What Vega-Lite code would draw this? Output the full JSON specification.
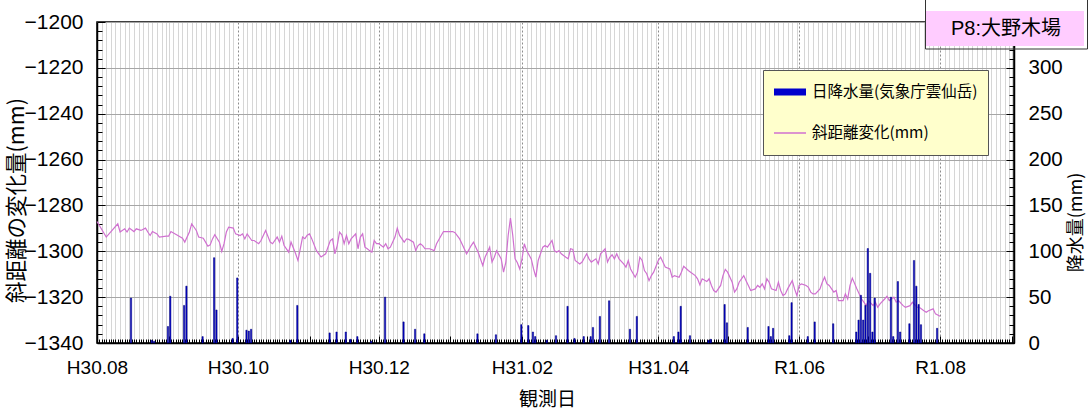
{
  "$schema": "https://vega.github.io/schema/vega-lite/v6.json",
  "width": 917,
  "height": 321,
  "autosize": {"type": "none"},
  "padding": {"left": 97, "top": 22, "right": 77, "bottom": 67},
  "background": "#ffffff",
  "config": {
    "view": {"stroke": "#000000", "strokeWidth": 1.5, "fill": "#ffffff"},
    "font": "Liberation Sans"
  },
  "datasets": {
    "disp": [
      {"date": "2018-08-01", "v": -1287.0}, {"date": "2018-08-05", "v": -1293.8}, {"date": "2018-08-10", "v": -1288.0}, {"date": "2018-08-11", "v": -1291.6},
      {"date": "2018-08-13", "v": -1290.2}, {"date": "2018-08-14", "v": -1291.6}, {"date": "2018-08-15", "v": -1289.9}, {"date": "2018-08-17", "v": -1291.4},
      {"date": "2018-08-18", "v": -1290.2}, {"date": "2018-08-20", "v": -1290.9}, {"date": "2018-08-22", "v": -1289.9}, {"date": "2018-08-23", "v": -1291.6},
      {"date": "2018-08-24", "v": -1293.1}, {"date": "2018-08-25", "v": -1291.4}, {"date": "2018-08-27", "v": -1292.4}, {"date": "2018-08-28", "v": -1293.8},
      {"date": "2018-08-31", "v": -1293.4}, {"date": "2018-09-01", "v": -1293.4}, {"date": "2018-09-02", "v": -1291.4}, {"date": "2018-09-05", "v": -1293.1},
      {"date": "2018-09-07", "v": -1294.3}, {"date": "2018-09-08", "v": -1296.0}, {"date": "2018-09-10", "v": -1291.6}, {"date": "2018-09-11", "v": -1288.0},
      {"date": "2018-09-13", "v": -1290.9}, {"date": "2018-09-14", "v": -1293.8}, {"date": "2018-09-16", "v": -1294.3}, {"date": "2018-09-17", "v": -1296.0},
      {"date": "2018-09-18", "v": -1297.8}, {"date": "2018-09-19", "v": -1297.2}, {"date": "2018-09-20", "v": -1294.6}, {"date": "2018-09-21", "v": -1292.8},
      {"date": "2018-09-23", "v": -1296.0}, {"date": "2018-09-24", "v": -1300.1}, {"date": "2018-09-25", "v": -1296.7}, {"date": "2018-09-26", "v": -1291.6},
      {"date": "2018-09-27", "v": -1289.5}, {"date": "2018-09-29", "v": -1289.9}, {"date": "2018-09-30", "v": -1292.4}, {"date": "2018-10-02", "v": -1293.1},
      {"date": "2018-10-03", "v": -1292.4}, {"date": "2018-10-04", "v": -1294.6}, {"date": "2018-10-05", "v": -1292.4}, {"date": "2018-10-07", "v": -1295.3},
      {"date": "2018-10-08", "v": -1295.3}, {"date": "2018-10-10", "v": -1296.7}, {"date": "2018-10-11", "v": -1295.3}, {"date": "2018-10-13", "v": -1290.9},
      {"date": "2018-10-15", "v": -1296.0}, {"date": "2018-10-16", "v": -1296.7}, {"date": "2018-10-18", "v": -1293.8}, {"date": "2018-10-19", "v": -1296.0},
      {"date": "2018-10-20", "v": -1293.4}, {"date": "2018-10-21", "v": -1297.5}, {"date": "2018-10-23", "v": -1300.4}, {"date": "2018-10-24", "v": -1296.0},
      {"date": "2018-10-26", "v": -1301.1}, {"date": "2018-10-27", "v": -1304.0}, {"date": "2018-10-28", "v": -1298.9}, {"date": "2018-10-29", "v": -1293.8},
      {"date": "2018-10-30", "v": -1294.5}, {"date": "2018-10-31", "v": -1293.0}, {"date": "2018-11-01", "v": -1292.4}, {"date": "2018-11-02", "v": -1294.6},
      {"date": "2018-11-04", "v": -1299.7}, {"date": "2018-11-06", "v": -1302.5}, {"date": "2018-11-08", "v": -1301.1}, {"date": "2018-11-10", "v": -1295.3},
      {"date": "2018-11-11", "v": -1294.6}, {"date": "2018-11-12", "v": -1301.1}, {"date": "2018-11-13", "v": -1297.5}, {"date": "2018-11-14", "v": -1291.6},
      {"date": "2018-11-15", "v": -1292.8}, {"date": "2018-11-16", "v": -1296.7}, {"date": "2018-11-17", "v": -1293.1}, {"date": "2018-11-18", "v": -1296.7},
      {"date": "2018-11-19", "v": -1294.6}, {"date": "2018-11-21", "v": -1292.4}, {"date": "2018-11-22", "v": -1298.9}, {"date": "2018-11-23", "v": -1293.8},
      {"date": "2018-11-24", "v": -1292.4}, {"date": "2018-11-25", "v": -1298.2}, {"date": "2018-11-26", "v": -1298.9}, {"date": "2018-11-27", "v": -1299.7},
      {"date": "2018-11-28", "v": -1300.4}, {"date": "2018-11-29", "v": -1295.3}, {"date": "2018-11-30", "v": -1296.7}, {"date": "2018-12-01", "v": -1296.7},
      {"date": "2018-12-03", "v": -1298.2}, {"date": "2018-12-04", "v": -1296.7}, {"date": "2018-12-05", "v": -1298.9}, {"date": "2018-12-06", "v": -1298.2},
      {"date": "2018-12-08", "v": -1293.8}, {"date": "2018-12-09", "v": -1289.9}, {"date": "2018-12-10", "v": -1293.1}, {"date": "2018-12-12", "v": -1296.0},
      {"date": "2018-12-13", "v": -1294.6}, {"date": "2018-12-14", "v": -1294.8}, {"date": "2018-12-16", "v": -1296.0}, {"date": "2018-12-17", "v": -1299.7},
      {"date": "2018-12-18", "v": -1297.5}, {"date": "2018-12-19", "v": -1296.7}, {"date": "2018-12-20", "v": -1297.5}, {"date": "2018-12-21", "v": -1298.9},
      {"date": "2018-12-23", "v": -1298.9}, {"date": "2018-12-25", "v": -1299.7}, {"date": "2018-12-26", "v": -1296.7}, {"date": "2018-12-28", "v": -1293.1},
      {"date": "2018-12-29", "v": -1291.4}, {"date": "2019-01-02", "v": -1291.4}, {"date": "2019-01-03", "v": -1291.9}, {"date": "2019-01-05", "v": -1294.6},
      {"date": "2019-01-06", "v": -1296.7}, {"date": "2019-01-07", "v": -1298.9}, {"date": "2019-01-08", "v": -1301.1}, {"date": "2019-01-10", "v": -1297.5},
      {"date": "2019-01-11", "v": -1296.0}, {"date": "2019-01-12", "v": -1298.2}, {"date": "2019-01-13", "v": -1300.4}, {"date": "2019-01-14", "v": -1303.3},
      {"date": "2019-01-15", "v": -1306.2}, {"date": "2019-01-16", "v": -1302.6}, {"date": "2019-01-18", "v": -1298.2}, {"date": "2019-01-19", "v": -1304.7},
      {"date": "2019-01-20", "v": -1302.6}, {"date": "2019-01-21", "v": -1299.7}, {"date": "2019-01-23", "v": -1303.3}, {"date": "2019-01-24", "v": -1309.1},
      {"date": "2019-01-25", "v": -1304.7}, {"date": "2019-01-26", "v": -1293.1}, {"date": "2019-01-27", "v": -1285.5}, {"date": "2019-01-28", "v": -1293.1},
      {"date": "2019-01-29", "v": -1303.3}, {"date": "2019-01-30", "v": -1305.0}, {"date": "2019-01-31", "v": -1307.7}, {"date": "2019-02-01", "v": -1303.3},
      {"date": "2019-02-02", "v": -1296.7}, {"date": "2019-02-03", "v": -1299.7}, {"date": "2019-02-05", "v": -1303.3}, {"date": "2019-02-06", "v": -1307.7},
      {"date": "2019-02-07", "v": -1311.3}, {"date": "2019-02-08", "v": -1304.0}, {"date": "2019-02-10", "v": -1298.2}, {"date": "2019-02-11", "v": -1297.5},
      {"date": "2019-02-12", "v": -1298.2}, {"date": "2019-02-14", "v": -1295.3}, {"date": "2019-02-15", "v": -1299.7}, {"date": "2019-02-16", "v": -1300.4},
      {"date": "2019-02-17", "v": -1299.7}, {"date": "2019-02-18", "v": -1301.1}, {"date": "2019-02-20", "v": -1302.6}, {"date": "2019-02-21", "v": -1303.3},
      {"date": "2019-02-22", "v": -1298.9}, {"date": "2019-02-23", "v": -1299.2}, {"date": "2019-02-24", "v": -1304.0}, {"date": "2019-02-26", "v": -1305.5},
      {"date": "2019-02-27", "v": -1304.7}, {"date": "2019-03-01", "v": -1301.1}, {"date": "2019-03-02", "v": -1303.3}, {"date": "2019-03-03", "v": -1304.7},
      {"date": "2019-03-05", "v": -1303.3}, {"date": "2019-03-06", "v": -1305.5}, {"date": "2019-03-07", "v": -1301.1}, {"date": "2019-03-09", "v": -1298.9},
      {"date": "2019-03-10", "v": -1304.7}, {"date": "2019-03-11", "v": -1302.6}, {"date": "2019-03-12", "v": -1301.5}, {"date": "2019-03-13", "v": -1303.3},
      {"date": "2019-03-14", "v": -1301.1}, {"date": "2019-03-15", "v": -1303.3}, {"date": "2019-03-17", "v": -1305.5}, {"date": "2019-03-18", "v": -1306.9},
      {"date": "2019-03-19", "v": -1304.0}, {"date": "2019-03-20", "v": -1307.7}, {"date": "2019-03-22", "v": -1311.3}, {"date": "2019-03-23", "v": -1309.1},
      {"date": "2019-03-24", "v": -1302.6}, {"date": "2019-03-25", "v": -1304.0}, {"date": "2019-03-26", "v": -1308.4}, {"date": "2019-03-27", "v": -1309.8},
      {"date": "2019-03-28", "v": -1312.8}, {"date": "2019-03-29", "v": -1310.6}, {"date": "2019-03-30", "v": -1309.1}, {"date": "2019-04-01", "v": -1304.0},
      {"date": "2019-04-02", "v": -1302.6}, {"date": "2019-04-03", "v": -1304.7}, {"date": "2019-04-04", "v": -1306.9}, {"date": "2019-04-06", "v": -1307.7},
      {"date": "2019-04-07", "v": -1311.3}, {"date": "2019-04-08", "v": -1310.6}, {"date": "2019-04-10", "v": -1311.3}, {"date": "2019-04-11", "v": -1309.1},
      {"date": "2019-04-12", "v": -1306.5}, {"date": "2019-04-14", "v": -1308.4}, {"date": "2019-04-15", "v": -1309.1}, {"date": "2019-04-17", "v": -1310.6},
      {"date": "2019-04-18", "v": -1312.0}, {"date": "2019-04-19", "v": -1314.6}, {"date": "2019-04-20", "v": -1312.0}, {"date": "2019-04-22", "v": -1313.2},
      {"date": "2019-04-23", "v": -1312.0}, {"date": "2019-04-24", "v": -1314.9}, {"date": "2019-04-25", "v": -1317.1}, {"date": "2019-04-26", "v": -1317.8},
      {"date": "2019-04-28", "v": -1314.9}, {"date": "2019-04-29", "v": -1310.6}, {"date": "2019-04-30", "v": -1307.9}, {"date": "2019-05-01", "v": -1309.1},
      {"date": "2019-05-03", "v": -1313.5}, {"date": "2019-05-04", "v": -1317.8}, {"date": "2019-05-05", "v": -1316.4}, {"date": "2019-05-06", "v": -1313.5},
      {"date": "2019-05-08", "v": -1310.6}, {"date": "2019-05-09", "v": -1312.8}, {"date": "2019-05-10", "v": -1314.9}, {"date": "2019-05-11", "v": -1317.1},
      {"date": "2019-05-13", "v": -1316.4}, {"date": "2019-05-14", "v": -1314.9}, {"date": "2019-05-15", "v": -1315.7}, {"date": "2019-05-16", "v": -1314.2},
      {"date": "2019-05-17", "v": -1316.4}, {"date": "2019-05-18", "v": -1312.0}, {"date": "2019-05-19", "v": -1313.5}, {"date": "2019-05-20", "v": -1316.4},
      {"date": "2019-05-22", "v": -1317.1}, {"date": "2019-05-23", "v": -1313.5}, {"date": "2019-05-24", "v": -1317.1}, {"date": "2019-05-25", "v": -1319.3},
      {"date": "2019-05-26", "v": -1318.6}, {"date": "2019-05-27", "v": -1316.4}, {"date": "2019-05-29", "v": -1312.8}, {"date": "2019-05-30", "v": -1316.4},
      {"date": "2019-05-31", "v": -1319.3}, {"date": "2019-06-01", "v": -1314.9}, {"date": "2019-06-02", "v": -1314.2}, {"date": "2019-06-04", "v": -1314.9},
      {"date": "2019-06-05", "v": -1315.7}, {"date": "2019-06-06", "v": -1317.8}, {"date": "2019-06-07", "v": -1318.6}, {"date": "2019-06-08", "v": -1318.6},
      {"date": "2019-06-10", "v": -1316.4}, {"date": "2019-06-11", "v": -1313.5}, {"date": "2019-06-12", "v": -1311.3}, {"date": "2019-06-13", "v": -1314.2},
      {"date": "2019-06-14", "v": -1314.9}, {"date": "2019-06-16", "v": -1317.8}, {"date": "2019-06-17", "v": -1317.1}, {"date": "2019-06-18", "v": -1321.5},
      {"date": "2019-06-20", "v": -1321.5}, {"date": "2019-06-21", "v": -1318.6}, {"date": "2019-06-22", "v": -1320.8}, {"date": "2019-06-23", "v": -1314.9},
      {"date": "2019-06-24", "v": -1311.7}, {"date": "2019-06-26", "v": -1316.4}, {"date": "2019-06-27", "v": -1318.6}, {"date": "2019-06-28", "v": -1320.8},
      {"date": "2019-06-29", "v": -1322.2}, {"date": "2019-06-30", "v": -1323.7}, {"date": "2019-07-01", "v": -1321.5}, {"date": "2019-07-03", "v": -1323.7},
      {"date": "2019-07-04", "v": -1322.2}, {"date": "2019-07-05", "v": -1324.4}, {"date": "2019-07-06", "v": -1322.9}, {"date": "2019-07-08", "v": -1320.8},
      {"date": "2019-07-09", "v": -1319.6}, {"date": "2019-07-10", "v": -1321.5}, {"date": "2019-07-12", "v": -1320.0}, {"date": "2019-07-13", "v": -1322.2},
      {"date": "2019-07-14", "v": -1321.5}, {"date": "2019-07-16", "v": -1323.7}, {"date": "2019-07-17", "v": -1324.4}, {"date": "2019-07-19", "v": -1323.7},
      {"date": "2019-07-20", "v": -1322.2}, {"date": "2019-07-22", "v": -1324.4}, {"date": "2019-07-23", "v": -1324.4}, {"date": "2019-07-25", "v": -1325.9},
      {"date": "2019-07-26", "v": -1326.6}, {"date": "2019-07-27", "v": -1325.9}, {"date": "2019-07-29", "v": -1325.1}, {"date": "2019-07-30", "v": -1327.3},
      {"date": "2019-08-01", "v": -1328.3}
    ],
    "rain": [
      {"date": "2018-08-15", "rain": 49}, {"date": "2018-08-24", "rain": 3}, {"date": "2018-08-25", "rain": 2}, {"date": "2018-08-31", "rain": 18},
      {"date": "2018-09-01", "rain": 51}, {"date": "2018-09-07", "rain": 41}, {"date": "2018-09-08", "rain": 62}, {"date": "2018-09-15", "rain": 7},
      {"date": "2018-09-20", "rain": 93}, {"date": "2018-09-21", "rain": 36}, {"date": "2018-09-28", "rain": 5}, {"date": "2018-09-30", "rain": 71},
      {"date": "2018-10-04", "rain": 14}, {"date": "2018-10-05", "rain": 13}, {"date": "2018-10-06", "rain": 15}, {"date": "2018-10-23", "rain": 3},
      {"date": "2018-10-26", "rain": 41}, {"date": "2018-11-09", "rain": 11}, {"date": "2018-11-12", "rain": 12}, {"date": "2018-11-16", "rain": 12},
      {"date": "2018-11-18", "rain": 4}, {"date": "2018-11-21", "rain": 7}, {"date": "2018-11-27", "rain": 2}, {"date": "2018-12-03", "rain": 50},
      {"date": "2018-12-11", "rain": 23}, {"date": "2018-12-16", "rain": 15}, {"date": "2018-12-20", "rain": 10}, {"date": "2019-01-12", "rain": 10},
      {"date": "2019-01-20", "rain": 9}, {"date": "2019-01-31", "rain": 20}, {"date": "2019-02-03", "rain": 19}, {"date": "2019-02-05", "rain": 12},
      {"date": "2019-02-06", "rain": 7}, {"date": "2019-02-11", "rain": 3}, {"date": "2019-02-15", "rain": 8}, {"date": "2019-02-20", "rain": 40},
      {"date": "2019-02-23", "rain": 5}, {"date": "2019-02-27", "rain": 7}, {"date": "2019-03-02", "rain": 7}, {"date": "2019-03-03", "rain": 17},
      {"date": "2019-03-06", "rain": 29}, {"date": "2019-03-10", "rain": 46}, {"date": "2019-03-19", "rain": 15}, {"date": "2019-03-22", "rain": 29},
      {"date": "2019-04-07", "rain": 7}, {"date": "2019-04-09", "rain": 12}, {"date": "2019-04-10", "rain": 40}, {"date": "2019-04-14", "rain": 8},
      {"date": "2019-04-22", "rain": 3}, {"date": "2019-04-23", "rain": 4}, {"date": "2019-04-29", "rain": 42}, {"date": "2019-04-30", "rain": 22},
      {"date": "2019-05-09", "rain": 17}, {"date": "2019-05-18", "rain": 18}, {"date": "2019-05-19", "rain": 7}, {"date": "2019-05-20", "rain": 16},
      {"date": "2019-05-27", "rain": 8}, {"date": "2019-05-28", "rain": 44}, {"date": "2019-06-04", "rain": 7}, {"date": "2019-06-07", "rain": 23},
      {"date": "2019-06-15", "rain": 21}, {"date": "2019-06-25", "rain": 12}, {"date": "2019-06-26", "rain": 25}, {"date": "2019-06-27", "rain": 52},
      {"date": "2019-06-28", "rain": 25}, {"date": "2019-06-29", "rain": 41}, {"date": "2019-06-30", "rain": 103}, {"date": "2019-07-01", "rain": 76},
      {"date": "2019-07-02", "rain": 12}, {"date": "2019-07-03", "rain": 49}, {"date": "2019-07-10", "rain": 50}, {"date": "2019-07-11", "rain": 7},
      {"date": "2019-07-13", "rain": 67}, {"date": "2019-07-14", "rain": 12}, {"date": "2019-07-18", "rain": 21}, {"date": "2019-07-20", "rain": 90},
      {"date": "2019-07-21", "rain": 62}, {"date": "2019-07-22", "rain": 42}, {"date": "2019-07-23", "rain": 20}, {"date": "2019-07-30", "rain": 16}
    ]
  },
  "encoding": {
    "x": {
      "field": "date",
      "type": "temporal",
      "timeUnit": "utcyearmonthdate",
      "title": "観測日",
      "scale": {
        "type": "utc",
        "nice": false,
        "domain": [{"year": 2018, "month": 8, "date": 1, "utc": true}, {"year": 2019, "month": 9, "date": 2, "utc": true}]
      },
      "axis": {
        "tickCount": {"interval": "day", "step": 1},
        "labelExpr": "utcdate(datum.value) == 1 && utcmonth(datum.value) % 2 == 1 ? (utcyear(datum.value) == 2018 ? 'H30.' : (utcmonth(datum.value) < 4 ? 'H31.' : 'R1.')) + utcFormat(datum.value, '%m') : ''",
        "labelOverlap": false,
        "labelFlush": false,
        "labelFont": "Liberation Sans",
        "labelFontSize": 19,
        "labelColor": "#000000",
        "labelPadding": 22,
        "tickSize": {"condition": {"test": "utcdate(datum.value) == 1", "value": -7}, "value": -4},
        "tickColor": "#000000",
        "domainColor": "#000000",
        "domainWidth": 1.5,
        "grid": true,
        "gridColor": {"condition": {"test": "utcdate(datum.value) == 1 && utcmonth(datum.value) % 2 == 1", "value": "#8c8c8c"}, "value": "#d6d6d6"},
        "gridDash": {"condition": {"test": "utcdate(datum.value) == 1 && utcmonth(datum.value) % 2 == 1", "value": [2, 2]}, "value": []},
        "gridOpacity": {"condition": {"test": "utcdate(datum.value) % 2 == 1", "value": 1}, "value": 0},
        "titleFont": "Noto Sans CJK JP",
        "titleFontSize": 19,
        "titleFontWeight": "normal",
        "titleColor": "#000000",
        "titleX": 450,
        "titleY": 56,
        "titleBaseline": "middle"
      }
    }
  },
  "layer": [
    {
      "data": {"name": "disp"},
      "mark": {"type": "line", "color": "#d070d0", "strokeWidth": 1.2},
      "encoding": {
        "y": {
          "field": "v",
          "type": "quantitative",
          "scale": {"domain": [-1340, -1200], "nice": false, "zero": false},
          "axis": {
            "orient": "left",
            "values": [-1340, -1336, -1332, -1328, -1324, -1320, -1316, -1312, -1308, -1304, -1300, -1296, -1292, -1288, -1284, -1280, -1276, -1272, -1268, -1264, -1260, -1256, -1252, -1248, -1244, -1240, -1236, -1232, -1228, -1224, -1220, -1216, -1212, -1208, -1204, -1200],
            "labelExpr": "datum.value % 20 == 0 ? '−' + abs(datum.value) : ''",
            "labelFont": "Liberation Sans",
            "labelFontSize": 21,
            "labelColor": "#000000",
            "labelPadding": 22,
            "tickSize": {"condition": {"test": "datum.value % 20 == 0", "value": -8}, "value": -5},
            "tickColor": "#000000",
            "domainColor": "#000000",
            "domainWidth": 1.5,
            "grid": true,
            "gridColor": "#a6a6a6",
            "gridOpacity": {"condition": {"test": "datum.value % 20 == 0", "value": 1}, "value": 0},
            "title": "斜距離の変化量(mm)",
            "titleFont": "Noto Sans CJK JP",
            "titleFontSize": 21.5,
            "titleFontWeight": "normal",
            "titleColor": "#000000",
            "titleAngle": 270,
            "titleX": -80,
            "titleY": 178,
            "titleBaseline": "middle",
            "titleAlign": "center"
          }
        }
      }
    },
    {
      "data": {"name": "rain"},
      "mark": {"type": "bar", "color": "#0000cc", "stroke": "#00007a", "strokeWidth": 0.5},
      "encoding": {
        "y": {
          "field": "rain",
          "type": "quantitative",
          "scale": {"domain": [0, 350], "nice": false},
          "axis": {
            "orient": "right",
            "values": [0, 10, 20, 30, 40, 50, 60, 70, 80, 90, 100, 110, 120, 130, 140, 150, 160, 170, 180, 190, 200, 210, 220, 230, 240, 250, 260, 270, 280, 290, 300, 310, 320, 330, 340, 350],
            "labelExpr": "datum.value % 50 == 0 && datum.value <= 300 ? '' + datum.value : ''",
            "labelFont": "Liberation Sans",
            "labelFontSize": 20.5,
            "labelColor": "#000000",
            "labelPadding": 22,
            "tickSize": {"condition": {"test": "datum.value % 50 == 0", "value": -8}, "value": -5},
            "tickColor": "#000000",
            "domainColor": "#000000",
            "domainWidth": 1.5,
            "grid": false,
            "title": "降水量(mm)",
            "titleFont": "Noto Sans CJK JP",
            "titleFontSize": 18,
            "titleFontWeight": "normal",
            "titleColor": "#000000",
            "titleAngle": 270,
            "titleX": 62,
            "titleY": 200,
            "titleBaseline": "middle",
            "titleAlign": "center"
          }
        }
      }
    },
    {
      "data": {"values": []},
      "mark": {"type": "point", "filled": true, "opacity": 1},
      "encoding": {
        "color": {
          "field": "series",
          "type": "nominal",
          "scale": {"domain": ["日降水量(気象庁雲仙岳)", "斜距離変化(mm)"], "range": ["#0000cc", "#d070d0"]},
          "legend": {
            "orient": "none",
            "legendX": 666,
            "legendY": 48,
            "title": null,
            "fillColor": "#ffffcc",
            "strokeColor": "#555555",
            "padding": 10,
            "clipHeight": 24,
            "labelFont": "Noto Sans CJK JP",
            "labelFontSize": 15.5,
            "labelColor": "#000000",
            "labelLimit": 400,
            "labelOffset": 5,
            "rowPadding": 17,
            "symbolSize": 1024,
            "symbolOpacity": 1
          }
        },
        "shape": {
          "field": "series",
          "type": "nominal",
          "scale": {"domain": ["日降水量(気象庁雲仙岳)", "斜距離変化(mm)"], "range": ["M-1,-0.22H1V0.22H-1Z", "M-1,-0.04H1V0.04H-1Z"]}
        }
      }
    },
    {
      "data": {"values": []},
      "mark": {"type": "point", "filled": true, "fill": "#ffccff", "stroke": "#333333", "strokeWidth": 1.2, "opacity": 1},
      "encoding": {
        "strokeDash": {
          "datum": "P8:大野木場",
          "type": "nominal",
          "scale": {"range": [[1, 0]]},
          "legend": {
            "orient": "none",
            "legendX": 828,
            "legendY": -73.5,
            "title": null,
            "padding": 0,
            "strokeColor": "#333333",
            "symbolType": "M-1,-0.2215H1V0.2215H-1Z",
            "symbolSize": 24964,
            "symbolFillColor": "#ffccff",
            "symbolStrokeColor": "#333333",
            "symbolStrokeWidth": 1.2,
            "symbolOpacity": 1,
            "labelOffset": -79,
            "labelAlign": "center",
            "labelFont": "Liberation Sans, Noto Sans CJK JP",
            "labelFontSize": 20,
            "labelColor": "#000000"
          }
        }
      }
    }
  ],
  "resolve": {"scale": {"y": "independent"}}
}
